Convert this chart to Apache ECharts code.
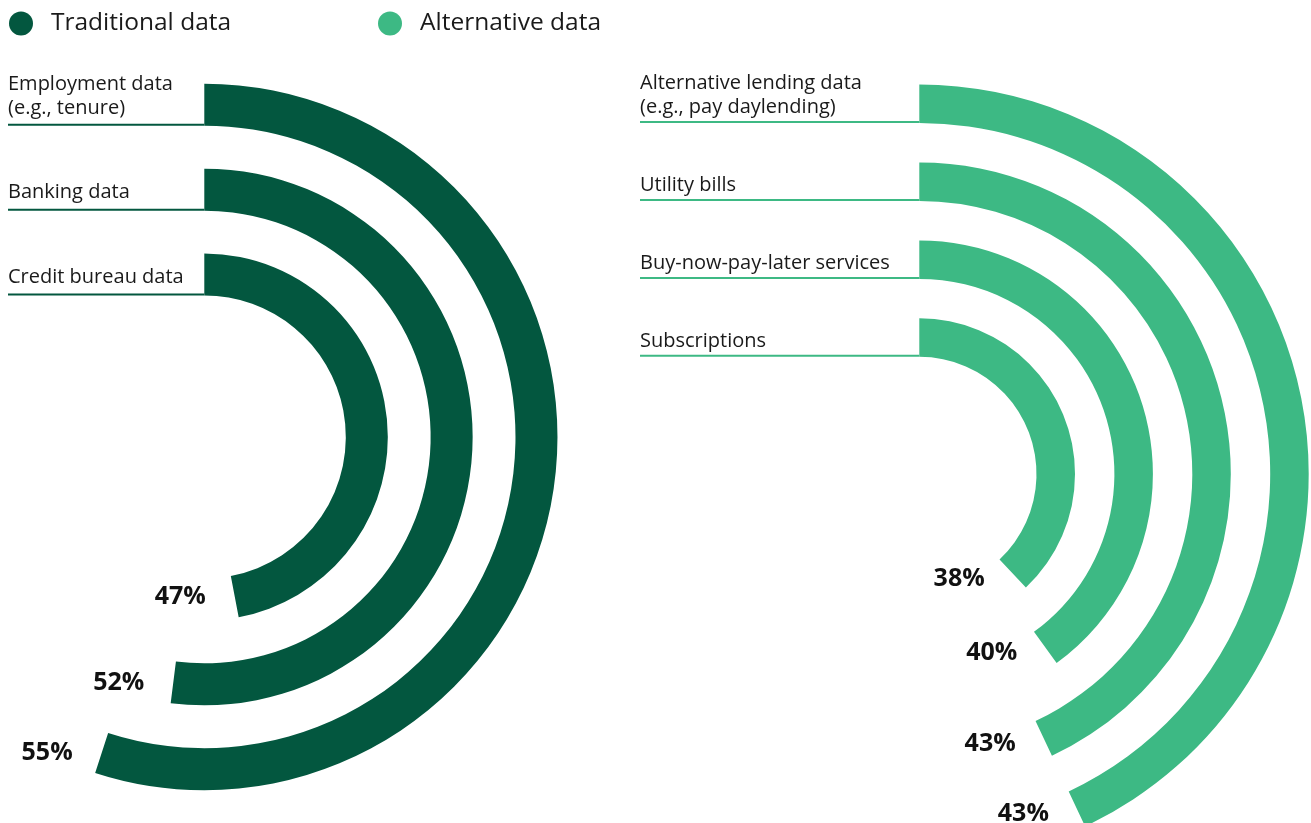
<!DOCTYPE html>
<html>
<head>
<meta charset="utf-8">
<script src="https://cdn.jsdelivr.net/npm/echarts@6/dist/echarts.min.js"></script>
<style>
  html, body { margin: 0; padding: 0; background: #ffffff; }
  #chart { width: 1311px; height: 823px; }
</style>
</head>
<body>
<div id="chart"></div>
<script>
// ---- Data (categories listed from innermost ring to outermost ring) ----
const seriesNames = ['Traditional data', 'Alternative data'];
const tradCategories = ['Credit bureau data', 'Banking data', 'Employment data\n(e.g., tenure)'];
const tradValues = [47, 52, 55];
const altCategories = ['Subscriptions', 'Buy-now-pay-later services', 'Utility bills', 'Alternative lending data\n(e.g., pay daylending)'];
const altValues = [38, 40, 43, 43];

// ---- Styles / layout ----
const FONT = '"Open Sans", "Noto Sans", sans-serif';
const DARK = '#03573F';
const LIGHT = '#3DB984';
const groups = [
  { cats: tradCategories, vals: tradValues, color: DARK, center: [204.3, 437], radius: [120.1, 374.6], barWidth: 42, labelX: 8, textGap: 5, pctDx: -29, pctDy: 0 },
  { cats: altCategories, vals: altValues, color: LIGHT, center: [919.3, 474], radius: [97.5, 409.1], barWidth: 38.5, labelX: 640, textGap: 3, pctDx: -28, pctDy: 5 }
];

const chart = echarts.init(document.getElementById('chart'), null, { renderer: 'canvas' });

const polar = groups.map(g => ({ center: g.center, radius: g.radius }));
const angleAxis = groups.map((g, k) => ({
  polarIndex: k, type: 'value', min: 0, max: 100, startAngle: 90, clockwise: true,
  show: false, splitLine: { show: false }, axisLine: { show: false }
}));
const radiusAxis = groups.map((g, k) => ({
  polarIndex: k, type: 'category', data: g.cats, show: false,
  axisLine: { show: false }, axisTick: { show: false }, axisLabel: { show: false }
}));

const series = [];
groups.forEach((g, k) => {
  series.push({
    name: seriesNames[k],
    type: 'bar',
    coordinateSystem: 'polar',
    polarIndex: k,
    data: g.vals,
    barWidth: g.barWidth,
    itemStyle: { color: g.color },
    silent: true
  });
  series.push({
    name: seriesNames[k] + ' labels',
    type: 'custom',
    coordinateSystem: 'polar',
    polarIndex: k,
    data: g.vals.map((v, i) => [i, v]),
    silent: true,
    renderItem: function (params, api) {
      const i = api.value(0);
      const v = api.value(1);
      const start = api.coord([i, 0]);
      const end = api.coord([i, v]);
      const lineY = start[1] + g.barWidth / 2 - 1;
      return {
        type: 'group',
        children: [
          {
            type: 'line',
            shape: { x1: g.labelX, y1: lineY, x2: start[0], y2: lineY },
            style: { stroke: g.color, lineWidth: 2 }
          },
          {
            type: 'text',
            style: {
              text: g.cats[i],
              x: g.labelX, y: lineY - g.textGap,
              textAlign: 'left', textVerticalAlign: 'bottom',
              fill: '#1a1a1a', fontSize: 20, lineHeight: 24, fontFamily: FONT
            }
          },
          {
            type: 'text',
            style: {
              text: v + '%',
              x: end[0] + g.pctDx, y: end[1] + g.pctDy,
              textAlign: 'right', textVerticalAlign: 'middle',
              fill: '#111111', fontSize: 25, fontWeight: 'bold', fontFamily: FONT
            }
          }
        ]
      };
    }
  });
});

const legendBase = {
  top: 11, padding: 0, icon: 'circle', itemWidth: 24, itemHeight: 24, selectedMode: false,
  textStyle: { fontSize: 24.5, color: '#1a1a1a', fontFamily: FONT, padding: [0, 0, 0, 13] }
};

chart.setOption({
  animation: false,
  backgroundColor: '#ffffff',
  color: [DARK, LIGHT],
  legend: [
    Object.assign({}, legendBase, { left: 9, data: [{ name: seriesNames[0], itemStyle: { color: DARK } }] }),
    Object.assign({}, legendBase, { left: 378, data: [{ name: seriesNames[1], itemStyle: { color: LIGHT } }] })
  ],
  polar: polar,
  angleAxis: angleAxis,
  radiusAxis: radiusAxis,
  series: series
});
</script>
</body>
</html>
